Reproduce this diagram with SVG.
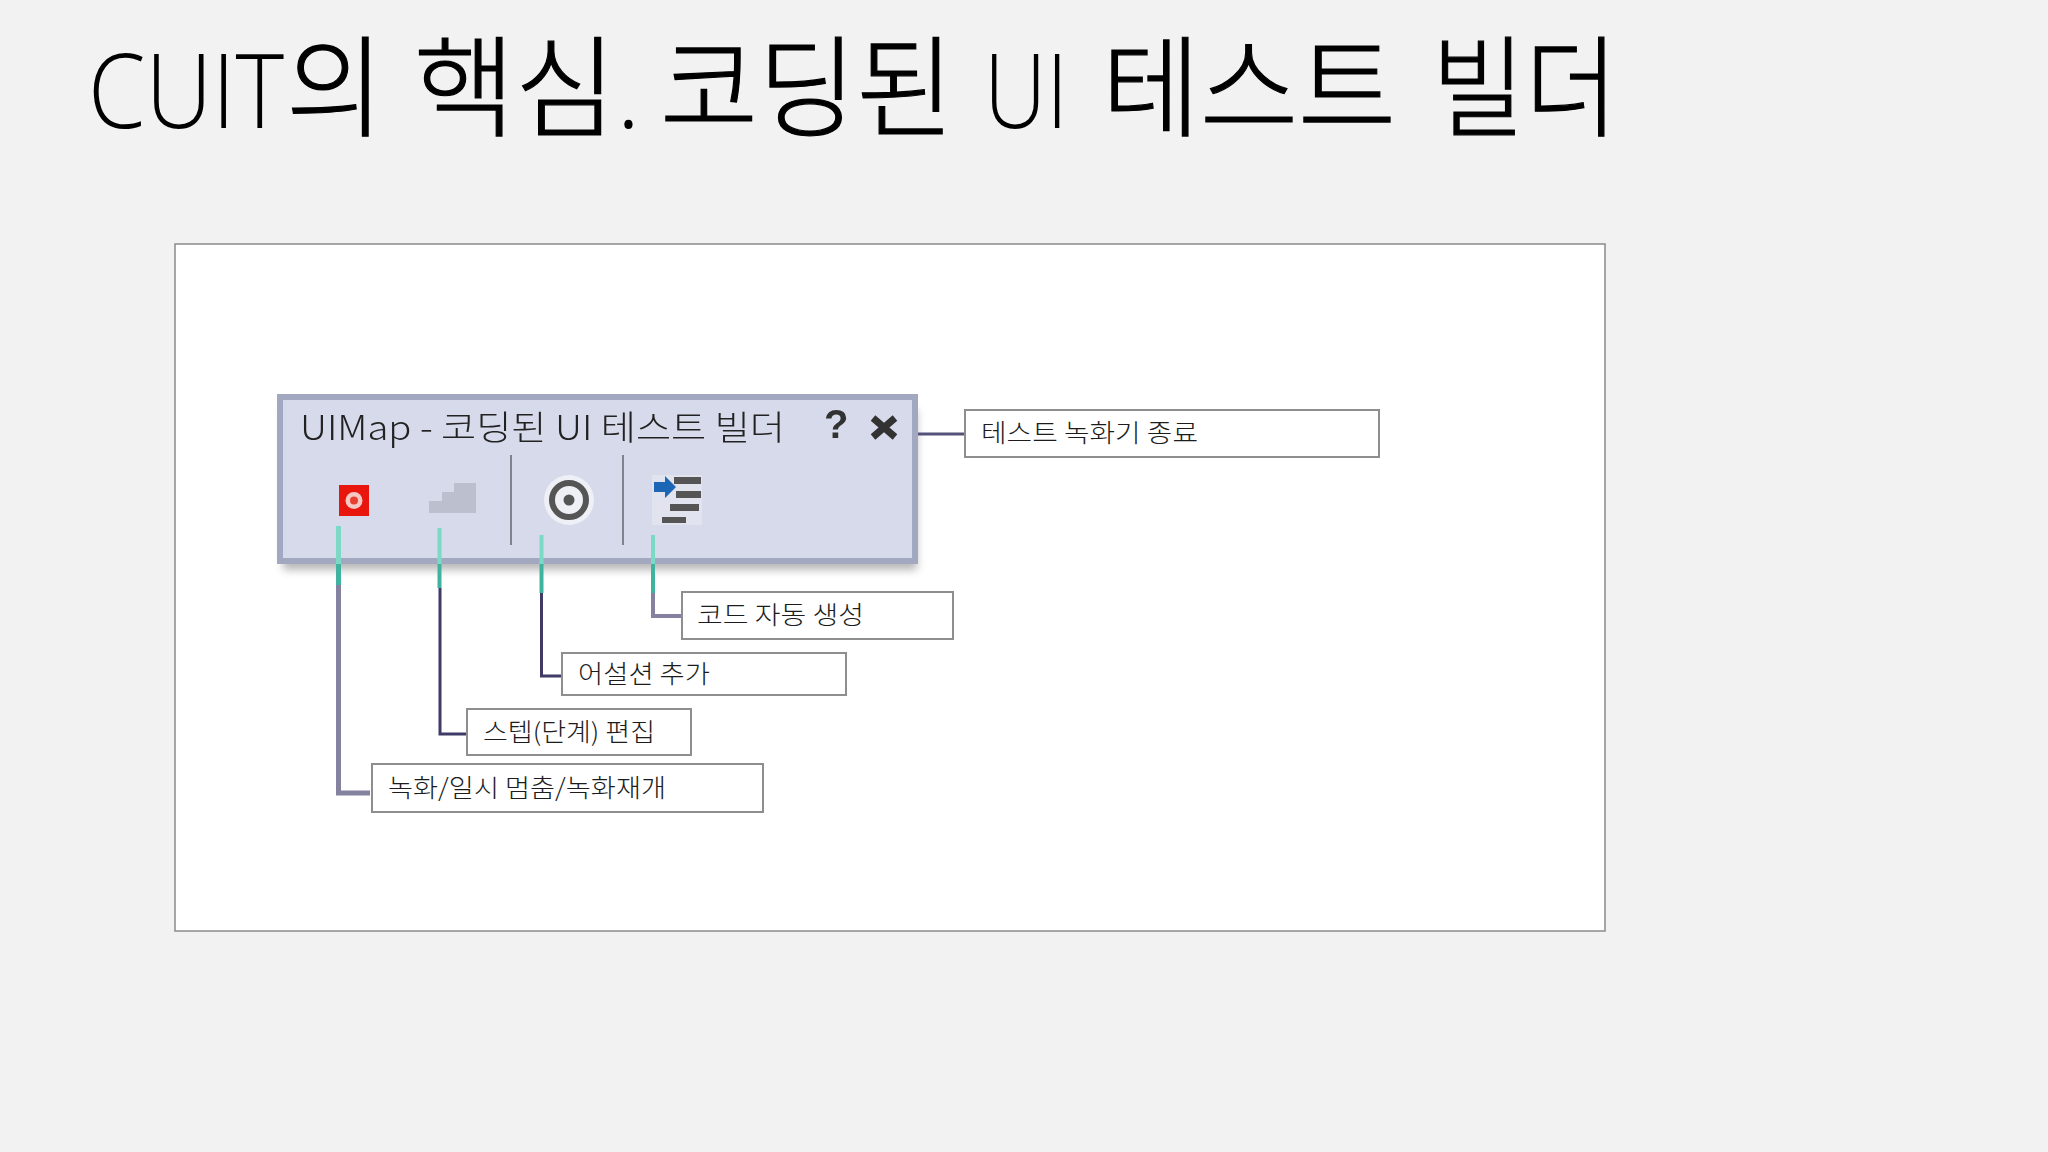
<svg xmlns="http://www.w3.org/2000/svg" width="2048" height="1152" viewBox="0 0 2048 1152">
<style>
text{font-family:"Noto Sans CJK KR","Noto Sans",sans-serif;fill:#1c1c1c}
.lb{font-size:25px;font-weight:300}
.box{fill:#fff;stroke:#8e8e8e;stroke-width:2}
.dk{fill:none;stroke:#3f3b66;stroke-width:3}
.dk2{fill:none;stroke:#85829f;stroke-width:5}
.tl{fill:none;stroke-width:5;stroke:#7cd9c6}
.tl2{fill:none;stroke-width:5;stroke:#3fb2a0}
.la{font-family:"Open Sans","Noto Sans",sans-serif;font-weight:300;font-size:104px}
.hg{font-weight:300;font-size:110px;stroke:#000;stroke-width:1.2px}
</style>
<defs><filter id="sh" x="-10%" y="-10%" width="120%" height="130%"><feGaussianBlur stdDeviation="4"/></filter>
<filter id="soft" x="-2%" y="-2%" width="104%" height="104%"><feGaussianBlur stdDeviation="0.6"/></filter></defs>
<rect width="2048" height="1152" fill="#f2f2f2"/>
<text id="title" y="128" style="fill:#000"><tspan class="la" x="88" textLength="196" lengthAdjust="spacingAndGlyphs">CUIT</tspan><tspan class="hg" x="286" textLength="98" lengthAdjust="spacingAndGlyphs">의</tspan><tspan class="hg" x="414" textLength="202" lengthAdjust="spacingAndGlyphs">핵심</tspan><tspan class="la" x="616">.</tspan><tspan class="hg" x="660" textLength="294" lengthAdjust="spacingAndGlyphs">코딩된</tspan><tspan class="la" x="984" textLength="84" lengthAdjust="spacingAndGlyphs">UI</tspan><tspan class="hg" x="1102" textLength="294" lengthAdjust="spacingAndGlyphs">테스트</tspan><tspan class="hg" x="1432" textLength="186" lengthAdjust="spacingAndGlyphs">빌더</tspan></text>
<rect id="panel" x="175" y="244" width="1430" height="687" fill="#fff" stroke="#8a8a8a" stroke-width="1.5"/>
<g id="toolbar">
<rect x="283" y="410" width="634" height="160" fill="#9a9a9a" opacity=".7" filter="url(#sh)"/>
<rect x="280" y="397" width="635" height="164" fill="#d6daea" stroke="#a1a8bf" stroke-width="6"/>
<g filter="url(#soft)">
<text x="300" y="440" font-size="34" style="font-weight:300;fill:#222" textLength="485" lengthAdjust="spacingAndGlyphs">UIMap - 코딩된 UI 테스트 빌더</text>
<text x="824" y="438" font-size="40" style="font-weight:700;font-family:'Liberation Sans',sans-serif;fill:#333">?</text>
<path id="icon-close" d="M873 418L895 437M895 418L873 437" stroke="#333" stroke-width="7" fill="none"/>
<path d="M511 455V545M623 455V545" stroke="#80828e" stroke-width="2" fill="none"/>
<g id="icon-record"><rect x="339" y="485" width="30" height="31" fill="#e8120f"/><circle cx="354" cy="500.500" r="8.5" fill="#f6c8c4"/><circle cx="354" cy="500.500" r="4" fill="#e8402f"/></g>
<path id="icon-step" d="M429 513V501H442V492H454V483H476V513Z" fill="#bcbfce"/>
<g id="icon-target"><ellipse cx="569" cy="500" rx="25" ry="25" fill="#eef0f6"/><circle cx="569" cy="500" r="17" fill="none" stroke="#555" stroke-width="6"/><circle cx="569" cy="500" r="5.500" fill="#555"/></g>
<g id="icon-code"><rect x="652" y="475" width="50" height="50" fill="#eef0f6" opacity=".45"/><rect x="674" y="477" width="27" height="7" fill="#555"/><rect x="676" y="491" width="25" height="7" fill="#555"/><rect x="670" y="504" width="29" height="7" fill="#555"/><rect x="662" y="517" width="24" height="6" fill="#555"/><path d="M654 482H665V476L676 487 665 498V492H654Z" fill="#1a66b5"/></g>
</g>
</g>
<g id="connectors">
<path class="dk2" d="M338.500 585V793H370"/>
<path class="dk" d="M440 588V734H467"/>
<path class="dk" d="M541.500 593V676H562"/>
<path class="dk2" d="M653 593V616H681" style="stroke-width:4"/>
<path class="tl" d="M338.500 526V564"/><path class="tl2" d="M338.500 564V585"/>
<path class="tl" d="M439.500 528V564" style="stroke-width:4"/><path class="tl2" d="M439.500 564V588" style="stroke-width:4"/>
<path class="tl" d="M541.500 535V564" style="stroke-width:4"/><path class="tl2" d="M541.500 564V593" style="stroke-width:4"/>
<path class="tl" d="M653 535V564" style="stroke-width:4"/><path class="tl2" d="M653 564V593" style="stroke-width:4"/>
<path class="dk" d="M918 434H964" style="stroke:#55527a"/>
</g>
<g id="n-stop"><rect class="box" x="965" y="410" width="414" height="47"/><text class="lb" x="981" y="442" textLength="217" lengthAdjust="spacingAndGlyphs">테스트 녹화기 종료</text></g>
<g id="n-code"><rect class="box" x="682" y="592" width="271" height="47"/><text class="lb" x="697" y="624" textLength="167" lengthAdjust="spacingAndGlyphs">코드 자동 생성</text></g>
<g id="n-assert"><rect class="box" x="562" y="653" width="284" height="42"/><text class="lb" x="578" y="683" textLength="132" lengthAdjust="spacingAndGlyphs">어설션 추가</text></g>
<g id="n-step"><rect class="box" x="467" y="709" width="224" height="46"/><text class="lb" x="483" y="741" textLength="172" lengthAdjust="spacingAndGlyphs">스텝(단계) 편집</text></g>
<g id="n-rec"><rect class="box" x="372" y="764" width="391" height="48"/><text class="lb" x="388" y="797" textLength="278" lengthAdjust="spacingAndGlyphs">녹화/일시 멈춤/녹화재개</text></g>
</svg>
